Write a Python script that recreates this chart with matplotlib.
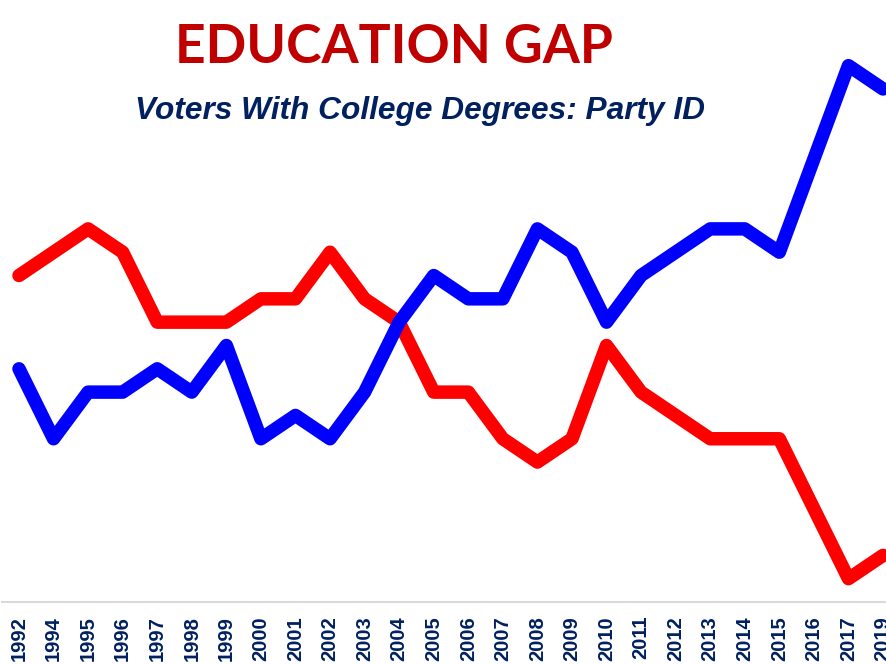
import numpy as np
import matplotlib.pyplot as plt

# Party ID among voters with college degrees (percent)
years = ['1992', '1994', '1995', '1996', '1997', '1998', '1999', '2000', '2001',
         '2002', '2003', '2004', '2005', '2006', '2007', '2008', '2009', '2010',
         '2011', '2012', '2013', '2014', '2015', '2016', '2017', '2019']
dem = [45, 42, 44, 44, 45, 44, 46, 42, 43, 42, 44, 47, 49, 48, 48, 51, 50, 47,
       49, 50, 51, 51, 50, 54, 58, 57]
rep = [49, 50, 51, 50, 47, 47, 47, 48, 48, 50, 48, 47, 44, 44, 42, 41, 42, 46,
       44, 43, 42, 42, 42, 39, 36, 37]

W, H = 887, 664
fig = plt.figure(figsize=(W / 100, H / 100), dpi=100)

# axes run a little past the right edge, like the cropped slide
x0, x1 = 1.7, 900.3
y_axis = 602
ax = fig.add_axes([x0 / W, (H - y_axis) / H, (x1 - x0) / W, y_axis / H])

x = np.arange(len(years))
ax.plot(x, rep, color='#FF0000', lw=9.7, solid_joinstyle='round', solid_capstyle='round')
ax.plot(x, dem, color='#0000FF', lw=9.7, solid_joinstyle='round', solid_capstyle='round')

ax.set_xlim(-0.5, len(years) - 0.5)
ax.set_ylim(35, 35 + y_axis / 23.32)

for s in ['top', 'left', 'right']:
    ax.spines[s].set_visible(False)
ax.spines['bottom'].set_color('#D9D9D9')
ax.spines['bottom'].set_linewidth(1.5)
ax.set_yticks([])
ax.set_xticks(x)
ax.set_xticklabels(years, rotation=90, fontsize=14.5, fontweight='bold',
                   color='#002060', family='Liberation Sans')
ax.tick_params(axis='x', length=0, pad=10)

# headings
fig.text(394 / W, 1 - 63 / H, 'EDUCATION GAP', ha='center', va='baseline',
         fontsize=38.5, fontweight='bold', color='#C00000', family='Lato')
fig.text(420 / W, 1 - 119 / H, 'Voters With College Degrees: Party ID', ha='center',
         va='baseline', fontsize=22.8, fontweight='bold', fontstyle='italic',
         color='#002060', family='Liberation Sans')

fig.savefig('out.png', dpi=100)
